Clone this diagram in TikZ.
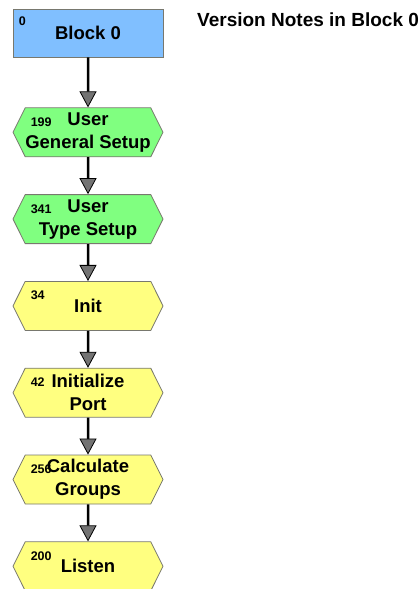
\documentclass[tikz,border=0pt]{standalone}
\usepackage{fontspec}
\setmainfont{Liberation Sans}
\usepackage{tikz}
\usetikzlibrary{arrows.meta, positioning, shapes.symbols}
\definecolor{blockblue}{RGB}{128,191,255}
\definecolor{setupgreen}{RGB}{128,255,128}
\definecolor{stepyellow}{RGB}{255,255,128}
\definecolor{edgegray}{RGB}{120,120,110}

\begin{document}
\begin{tikzpicture}[
  x=1pt, y=1pt,
  node distance = 37pt,
  blk/.style = {
    rectangle, draw=edgegray, line width=0.8pt,
    minimum width=150pt, minimum height=48pt,
    font=\fontsize{18.5}{23}\selectfont\bfseries, align=center
  },
  hex/.style = {
    signal, signal to=east and west, signal pointer angle=127,
    draw=edgegray, line width=0.8pt,
    minimum width=150pt, minimum height=49pt, inner sep=0pt,
    font=\fontsize{18.5}{23}\selectfont\bfseries, align=center
  },
  num/.style = {anchor=north west, inner sep=0pt, font=\fontsize{12.5}{13}\selectfont\bfseries},
  arr/.style = {-{Triangle[length=16pt, width=17pt, fill=gray!90!black, line width=0.8pt]}, line width=2.5pt}
]
\useasboundingbox (0,0) rectangle (420,-589);
\node[blk, fill=blockblue] (blk0) at (88,-33) {Block 0};
\node[hex, fill=setupgreen, below=50pt of blk0] (gen)  {User\\General Setup};
\node[hex, fill=setupgreen, below=of gen]  (type) {User\\Type Setup};
\node[hex, fill=stepyellow, below=of type] (init) {Init};
\node[hex, fill=stepyellow, below=of init] (port) {Initialize\\Port};
\node[hex, fill=stepyellow, below=of port] (calc) {Calculate\\Groups};
\node[hex, fill=stepyellow, below=of calc] (lstn) {Listen};
\coordinate[below=20pt of lstn] (out);
% block numbers
\node[num] (n0)   at ([xshift=6pt, yshift=-8pt]blk0.north west) {0};
\node[num] (n199) at ([xshift=18pt, yshift=15pt]gen.west) {199};
\node[num] (n341) at ([xshift=18pt, yshift=15pt]type.west) {341};
\node[num] (n34)  at ([xshift=18pt, yshift=15pt]init.west) {34};
\node[num] (n42)  at ([xshift=18pt, yshift=15pt]port.west) {42};
\node[num] (n256) at ([xshift=18pt, yshift=15pt]calc.west) {256};
\node[num] (n200) at ([xshift=18pt, yshift=15pt]lstn.west) {200};
\node[anchor=base west, inner sep=0pt, font=\fontsize{19}{23}\selectfont\bfseries] (note) at (197,-27) {Version Notes in Block 0};
\draw[arr] (blk0) -- (gen);
\draw[arr] (gen) -- (type);
\draw[arr] (type) -- (init);
\draw[arr] (init) -- (port);
\draw[arr] (port) -- (calc);
\draw[arr] (calc) -- (lstn);
\draw[line width=2.5pt] (lstn) -- (out);
\end{tikzpicture}
\end{document}
